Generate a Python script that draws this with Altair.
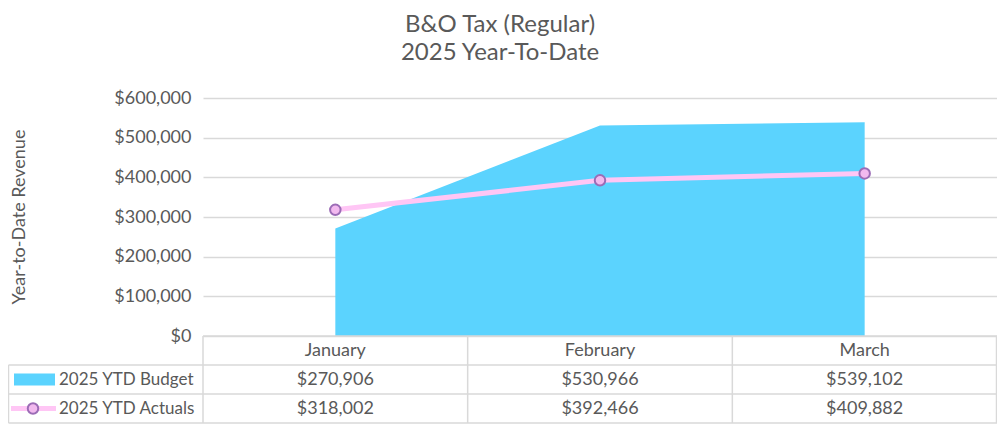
import altair as alt
import pandas as pd

months = ["January", "February", "March"]
budget = [270906, 530966, 539102]
actuals = [318002, 392466, 409882]
series_names = ["2025 YTD Budget", "2025 YTD Actuals"]
title_lines = ["B&O Tax (Regular)", "2025 Year-To-Date"]
y_title = "Year-to-Date Revenue"
y_ticks = [0, 100000, 200000, 300000, 400000, 500000, 600000]

df = pd.DataFrame({
    "month": months,
    "budget": budget,
    "actuals": actuals,
    "budget_txt": ["${:,}".format(v) for v in budget],
    "actuals_txt": ["${:,}".format(v) for v in actuals],
})

W, H = 794, 238
ROW = 29
FONT = "Lato"
GREY = "#595959"
GRID = "#d9d9d9"
BLUE = "#5bd3fe"
PINK = "#ffc6f5"
PFILL = "#f2b9ef"
PSTROKE = "#9b6cb6"

xenc = alt.X("month:N", sort=months,
             scale=alt.Scale(type="point", padding=0.5), axis=None)
yscale = alt.Scale(domain=[0, 600000], nice=False)
yaxis = alt.Axis(values=y_ticks, format="$,.0f", title=None,
                 domain=False, ticks=False, grid=True, labelOverlap=False,
                 gridColor=GRID, gridWidth=1.3,
                 labelFont=FONT, labelFontSize=18,
                 labelColor=GREY, labelPadding=12)

base = alt.Chart(df)

area = base.mark_area(color=BLUE, opacity=1).encode(
    x=xenc, y=alt.Y("budget:Q", scale=yscale, axis=yaxis))
line = base.mark_line(color=PINK, strokeWidth=5).encode(
    x=xenc, y=alt.Y("actuals:Q", scale=yscale, axis=yaxis))
pts = base.mark_point(shape="circle", filled=False, fill=PFILL, fillOpacity=1,
                      stroke=PSTROKE, strokeWidth=2, size=110, opacity=1).encode(
    x=xenc, y=alt.Y("actuals:Q", scale=yscale, axis=yaxis))

txt_kw = dict(font=FONT, fontSize=18, color=GREY, baseline="middle", align="center")
hdr = base.mark_text(**txt_kw).encode(x=xenc, y=alt.value(H + ROW / 2), text="month:N")
brow = base.mark_text(**txt_kw).encode(x=xenc, y=alt.value(H + ROW * 1.5), text="budget_txt:N")
arow = base.mark_text(**txt_kw).encode(x=xenc, y=alt.value(H + ROW * 2.5), text="actuals_txt:N")

one = pd.DataFrame({"k": [0]})


def label(text, x, y, size=17, align="left", angle=0, baseline="middle"):
    kw = dict(font=FONT, fontSize=size, color=GREY, baseline=baseline, align=align, text=text)
    if angle:
        kw["angle"] = angle
    return alt.Chart(one).mark_text(**kw).encode(x=alt.value(x), y=alt.value(y))


lab_b = label(series_names[0], -144, H + ROW * 1.5)
lab_a = label(series_names[1], -144, H + ROW * 2.5)
t1 = label(title_lines[0], 297, -66, size=24, align="center", baseline="alphabetic")
t2 = label(title_lines[1], 297, -38, size=24, align="center", baseline="alphabetic")
yt = label(y_title, -183, H / 2, size=18, align="center", angle=270)

key_rect = alt.Chart(one).mark_rect(color=BLUE).encode(
    x=alt.value(-189), x2=alt.value(-148),
    y=alt.value(H + ROW * 1.5 - 6), y2=alt.value(H + ROW * 1.5 + 6))
key_line = alt.Chart(one).mark_rule(color=PINK, strokeWidth=5).encode(
    x=alt.value(-192), x2=alt.value(-147), y=alt.value(H + ROW * 2.5))
key_pt = alt.Chart(one).mark_point(shape="circle", filled=False, fill=PFILL, fillOpacity=1,
                                   stroke=PSTROKE, strokeWidth=2, size=110, opacity=1).encode(
    x=alt.value(-170), y=alt.value(H + ROW * 2.5))


def hrule(x1, x2, y):
    return alt.Chart(one).mark_rule(color=GRID, strokeWidth=1.5).encode(
        x=alt.value(x1), x2=alt.value(x2), y=alt.value(y))


def vrule(x, y1, y2):
    return alt.Chart(one).mark_rule(color=GRID, strokeWidth=1.5).encode(
        x=alt.value(x), y=alt.value(y1), y2=alt.value(y2))


rules = [
    hrule(0, W, H),
    hrule(-194.5, W, H + ROW),
    hrule(-194.5, W, H + ROW * 2),
    hrule(-194.5, W, H + ROW * 3),
    vrule(0, H, H + ROW * 3),
    vrule(-194.5, H + ROW, H + ROW * 3),
    vrule(W / 3, H, H + ROW * 3),
    vrule(2 * W / 3, H, H + ROW * 3),
    vrule(W - 0.5, H, H + ROW * 3),
]

chart = alt.layer(
    area, line, pts, *rules, hdr, brow, arow, lab_b, lab_a, t1, t2, yt,
    key_rect, key_line, key_pt,
).properties(
    width=W, height=H,
    autosize=alt.AutoSizeParams(type="none"),
    padding={"left": 195, "right": 0, "top": 90, "bottom": 88},
).configure_view(stroke=None)

chart.save("out.html", embed_options={"renderer": "svg", "actions": False})
